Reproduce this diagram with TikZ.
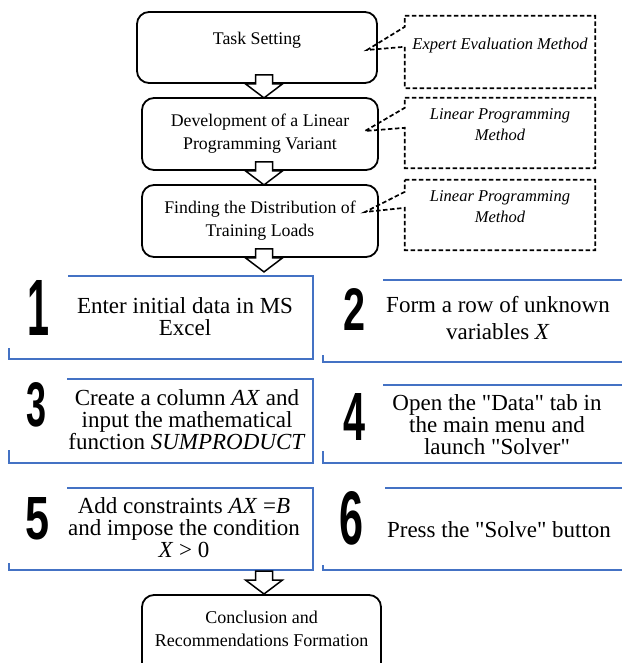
\documentclass[tikz,border=0pt]{standalone}
\usepackage{fontspec}
\setmainfont{Liberation Serif}
\setsansfont{Liberation Sans}
\usepackage{graphicx}
\usepackage{tikz}
\usetikzlibrary{calc}

\definecolor{frameblue}{RGB}{68,114,196}

\begin{document}
\begin{tikzpicture}[
x=1pt,y=-1pt,
stage/.style={
	draw,
	rounded corners=12pt,
	line width=1.8pt,
	inner sep=2pt,
	align=center,
	font=\fontsize{17.8}{23}\selectfont
},
notebox/.style={
	inner sep=0pt,
	minimum width=190pt,
	align=center,
	font=\itshape\fontsize{16.5}{21}\selectfont
},
notedash/.style={
	draw,
	dash pattern=on 4.5pt off 2.5pt,
	line width=1.7pt
},
stepframe/.style={
	draw=frameblue,
	line width=1.3pt
},
steptext/.style={
	align=center,
	inner sep=0pt,
	font=\fontsize{23}{22}\selectfont
},
stepnum/.style={
	inner sep=0pt,
	font=\sffamily\bfseries
},
hollow/.pic={
	\draw[line width=1.5pt, fill=white, miter limit=4]
	(-8.5,-9) -- (8.5,-9) -- (8.5,0) -- (18.5,0) -- (0,14)
	-- (-18.5,0) -- (-8.5,0) -- cycle;
}
]
\useasboundingbox (0,0) rectangle (622,663);
\clip (0,0) rectangle (622,663);

% main stages
\node[stage, minimum width=240pt, minimum height=71pt] at (257,47.5)
(s1) {Task Setting\\[-4pt]\mbox{}};
\node[stage, minimum width=236pt, minimum height=72pt] at (260,134)
(s2) {Development of a Linear\\Programming Variant};
\node[stage, minimum width=236pt, minimum height=72pt] at (260,221)
(s3) {Finding the Distribution of\\Training Loads};
\node[stage, minimum width=239pt, minimum height=80pt, font=\fontsize{18}{23}\selectfont] at (261.5,635)
(s4) {Conclusion and\\Recommendations Formation\\[-10pt]\mbox{}};

% methods (dashed notes)
\node[notebox, minimum height=72pt] at (500,52)
(m1) {Expert Evaluation Method\\[-4pt]\mbox{}};
\node[notebox, minimum height=70pt] at (500,133)
(m2) {Linear Programming\\Method\\[-4pt]\mbox{}};
\node[notebox, minimum height=70pt] at (500,215)
(m3) {Linear Programming\\Method\\[-4pt]\mbox{}};

\coordinate (p1) at (367,50);
\coordinate (p2) at (365,131);
\coordinate (p3) at (365,212);

\draw[notedash] (m1.north west) -- (m1.north east) -- (m1.south east) -- (m1.south west)
-- ($(m1.north west)+(0,31)$) -- (p1) -- ($(m1.north west)+(0,11)$) -- cycle;
\draw[notedash] (m2.north west) -- (m2.north east) -- (m2.south east) -- (m2.south west)
-- ($(m2.north west)+(0,30)$) -- (p2) -- ($(m2.north west)+(0,10)$) -- cycle;
\draw[notedash] (m3.north west) -- (m3.north east) -- (m3.south east) -- (m3.south west)
-- ($(m3.north west)+(0,28)$) -- (p3) -- ($(m3.north west)+(0,12)$) -- cycle;

% steps in Excel
\draw[stepframe] (68,276) -- (313,276) -- (313,359) -- (9,359) -- (9,348);
\draw[stepframe] (383,280) -- (622,280);
\draw[stepframe] (323,355) -- (323,362) -- (622,362);
\draw[stepframe] (67,379) -- (313,379) -- (313,463) -- (9,463) -- (9,450);
\draw[stepframe] (383,385) -- (622,385);
\draw[stepframe] (323,451) -- (323,463) -- (622,463);
\draw[stepframe] (67,488) -- (313,488) -- (313,570) -- (9,570) -- (9,563);
\draw[stepframe] (385,488) -- (622,488);
\draw[stepframe] (323,565) -- (323,570) -- (622,570);

\node[stepnum] at (39,307.5) (n1) {\resizebox{22pt}{55pt}{1}};
\node[stepnum] at (354,309) (n2) {\resizebox{22pt}{42pt}{2}};
\node[stepnum] at (37,405) (n3) {\resizebox{20pt}{44pt}{3}};
\node[stepnum] at (354,416.5) (n4) {\resizebox{22pt}{47pt}{4}};
\node[stepnum] at (38,519) (n5) {\resizebox{24pt}{42pt}{5}};
\node[stepnum] at (351,518.5) (n6) {\resizebox{24pt}{53pt}{6}};

\node[steptext] at (185,317) (t1) {Enter initial data in MS\\Excel};
\node[steptext] at (498,318) (t2) {Form a row of unknown\\[5pt]variables \textit{X}};
\node[steptext] at (187,420) (t3) {Create a column \textit{AX} and\\input the mathematical\\function \textit{SUMPRODUCT}};
\node[steptext] at (497,425) (t4) {Open the \textquotedbl Data\textquotedbl{} tab in\\the main menu and\\launch \textquotedbl Solver\textquotedbl};
\node[steptext] at (184,528) (t5) {Add constraints \textit{AX} =\textit{B}\\and impose the condition\\\textit{X} > 0};
\node[steptext] at (499,530) (t6) {Press the \textquotedbl Solve\textquotedbl{} button};

% hollow arrows between stages
\coordinate (axis) at (264,0);
\pic at (s1.south -| axis) {hollow};
\pic at (s2.south -| axis) {hollow};
\pic at (s3.south -| axis) {hollow};
\pic at (264,580) {hollow};

\end{tikzpicture}
\end{document}
